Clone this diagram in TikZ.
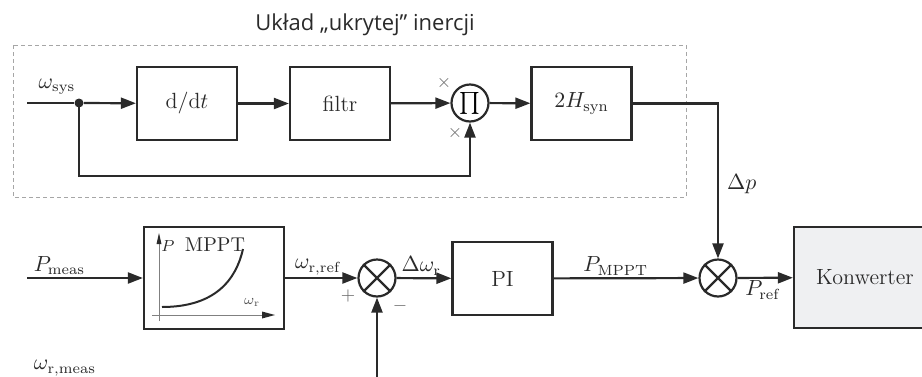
\documentclass[tikz,border=0pt]{standalone}
\usepackage{fontspec}
\usepackage{amsmath}
\newfontfamily\titlefont{Open Sans}
\usetikzlibrary{arrows.meta, positioning}
\definecolor{ink}{HTML}{2A2A2A}
\definecolor{konwfill}{HTML}{EFF0F2}

\begin{document}
\begin{tikzpicture}[
    x=0.5pt, y=-0.5pt,
    block/.style={
        rectangle, draw=ink, line width=1.1pt,
        minimum width=50pt, minimum height=36.5pt,
        font=\fontsize{11}{13}\selectfont, text=ink,
        inner sep=0pt
    },
    sumnode/.style={circle, draw=ink, line width=1.1pt, minimum size=18.5pt, inner sep=0pt},
    arrow/.style={-{Triangle[length=7.5pt, width=5.5pt]}, line width=1.1pt, draw=ink},
    wire/.style={line width=1.1pt, draw=ink},
    lab/.style={font=\fontsize{10.5}{12}\selectfont, text=ink, inner sep=1pt},
    sign/.style={font=\small, text=ink!70, inner sep=0pt},
    axis/.style={draw=gray, line width=0.5pt},
]
\useasboundingbox (0,0) rectangle (922,376);

% Tytul i ramka
\node[font=\titlefont\fontsize{11}{13}\selectfont, text=ink] (title) at (365,25)
    {Układ „ukrytej” inercji};
\draw[gray!70, dash pattern=on 2pt off 1.5pt, line width=0.5pt] (13,45) rectangle (686,197);

% Gorny tor
\coordinate (wsin) at (27,103);
\node[circle, fill=ink, minimum size=4.5pt, inner sep=0pt] (jn) at (79,103) {};
\node[block] (ddt)   at (187,103.5) {$\mathrm{d}/\mathrm{d}t$};
\node[block] (filtr) at (340,103.5) {filtr};
\node[sumnode, font=\fontsize{11}{13}\selectfont] (prod) at (470,103) {$\prod$};
\node[block] (hsyn)  at (581.5,103.5) {$2H_{\mathrm{syn}}$};

\node[lab] (wsys) at (57,87) {$\omega_{\mathrm{sys}}$};
\node[sign] (xa) at (444,83) {$\times$};
\node[sign] (xb) at (455,133) {$\times$};

\draw[wire] (wsin) -- (jn);
\draw[arrow] (jn) -- (ddt);
\draw[arrow] (ddt) -- (filtr);
\draw[arrow] (filtr) -- (prod);
\draw[arrow] (prod) -- (hsyn);
\draw[arrow] (jn.center) -- ++(0,73) -| (prod.south);

% Dolny tor
\coordinate (pin) at (27,278);
\node[block, minimum width=70pt, minimum height=51pt] (mppt) at (214,278) {};
\node[sumnode] (sum1) at (377,278) {};
\node[block] (pi)   at (502.5,278.5) {PI};
\node[sumnode] (sum2) at (718,278) {};
\node[block, fill=konwfill, minimum width=71pt, minimum height=50.5pt] (konw) at (865,277.5)
    {Konwerter};
\coordinate (wmeas) at (377,385);

\draw[wire] (sum1.north west) -- (sum1.south east) (sum1.north east) -- (sum1.south west);
\draw[wire] (sum2.north west) -- (sum2.south east) (sum2.north east) -- (sum2.south west);

% Charakterystyka MPPT
\draw[axis] (159,321) -- (159,240);
\draw[axis] (152,315) -- (266,315);
\fill[ink] (159,233) -- (156.5,244) -- (161.5,244) -- cycle;
\fill[ink] (275,315) -- (262,311.5) -- (262,318.5) -- cycle;
\draw[ink, line width=1pt] (162,307) .. controls (215,307) and (236,280) .. (243,249);
\node[font=\fontsize{8}{9}\selectfont, text=ink] (plab) at (168,246) {$P$};
\node[font=\fontsize{10}{12}\selectfont, text=ink] (mpptlab) at (215,245) {MPPT};
\node[font=\fontsize{7}{8}\selectfont, text=ink!80] (wrlab) at (252,302) {$\omega_{\mathrm{r}}$};

% Polaczenia
\draw[arrow] (pin) -- node[lab, above, pos=0.28] {$P_{\mathrm{meas}}$} (mppt);
\draw[arrow] (mppt) -- node[lab, above, pos=0.45] {$\omega_{\mathrm{r,ref}}$} (sum1);
\draw[arrow] (sum1) -- node[lab, above, pos=0.45] {$\Delta\omega_{\mathrm{r}}$} (pi);
\draw[arrow] (pi) -- node[lab, above, pos=0.43] {$P_{\mathrm{MPPT}}$} (sum2);
\draw[arrow] (sum2) -- node[lab, below, pos=0.45] {$P_{\mathrm{ref}}$} (konw);
\draw[arrow] (wmeas) -- (sum1);
\draw[arrow] (hsyn.east) -| node[lab, right, pos=0.76, xshift=3pt] {$\Delta p$} (sum2.north);

\node[sign] (plus)  at (348,296) {$+$};
\node[sign] (minus) at (400,306) {$-$};
\node[lab] (wmeaslab) at (65,368) {$\omega_{\mathrm{r,meas}}$};

\end{tikzpicture}
\end{document}
